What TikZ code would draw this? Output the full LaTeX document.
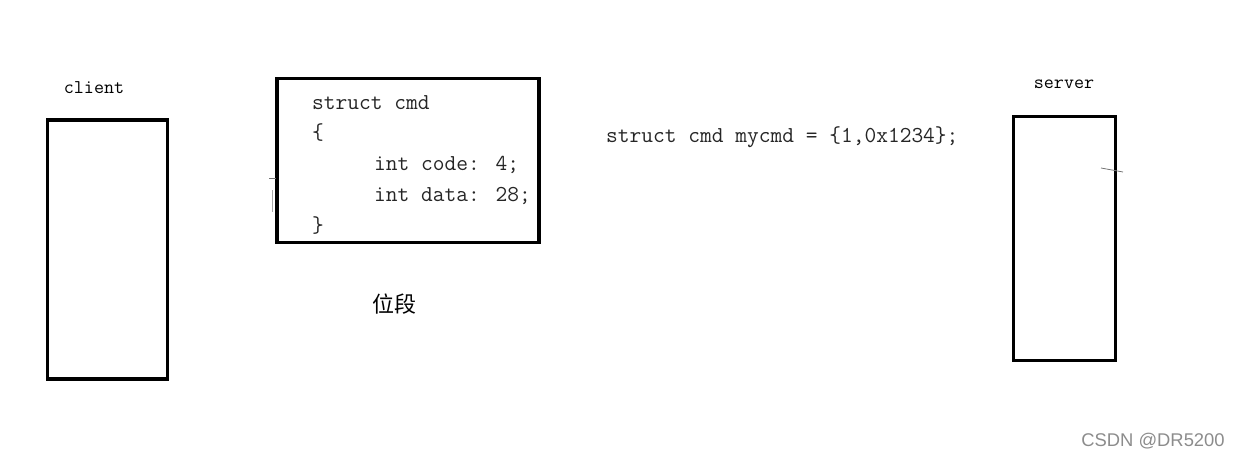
\documentclass[tikz,border=0pt]{standalone}
\usepackage{fontspec}
\newfontfamily\cjk{Noto Sans CJK SC}
\newfontfamily\wmfont{Liberation Sans}
\begin{document}
\begin{tikzpicture}[x=1pt,y=-1pt,
  framebox/.style={draw=black,line width=3.2pt,inner sep=0pt,outer sep=0pt,anchor=north west},
  codetext/.style={font=\ttfamily\fontsize{22.8}{23}\selectfont,text=black!85,anchor=west,inner sep=0pt},
  labeltext/.style={font=\ttfamily\fontsize{19.5}{19.5}\selectfont,anchor=center,inner sep=0pt},
  faint/.style={draw=black!55,line width=0.8pt}]
\useasboundingbox (0,0) rectangle (1241,461);
% boxes
\node[framebox,minimum width=120pt,minimum height=259pt] (client) at (47.5,120) {};
\node[framebox,minimum width=262pt,minimum height=164pt] (cmdbox) at (277,78.5) {};
\node[framebox,minimum width=102pt,minimum height=244pt] (server) at (1013.5,116.5) {};
% labels
\node[labeltext] (clientlbl) at (94,88) {client};
\node[labeltext] (serverlbl) at (1064,84) {server};
% code inside box
\node[codetext] (l1) at (312,103) {struct cmd};
\node[codetext] (l2) at (312,133) {\{};
\node[codetext] (l3) at (374,165) {int code: 4;};
\node[codetext] (l4) at (374,196) {int data: 28;};
\node[codetext] (l5) at (312,226) {\}};
% init statement
\node[codetext] (init) at (606,137) {struct cmd mycmd = \{1,0x1234\};};
% chinese label
\node[font=\cjk\fontsize{22}{22}\selectfont,inner sep=0pt] (wei) at (394,304) {位段};
% watermark
\node[font=\wmfont\fontsize{18.4}{18.4}\selectfont,text=black!45,inner sep=0pt] (wm) at (1153,441) {CSDN @DR5200};
% stray marks
\coordinate (m1a) at (269,178); \coordinate (m1b) at (276,178);
\draw[faint] (m1a) -- (m1b);
\coordinate (m2a) at (272,190); \coordinate (m2b) at (272,212);
\draw[faint,draw=black!35] (m2a) -- (m2b);
\coordinate (m3a) at (1101,168); \coordinate (m3b) at (1123,172);
\draw[faint] (m3a) -- (m3b);
\end{tikzpicture}
\end{document}
